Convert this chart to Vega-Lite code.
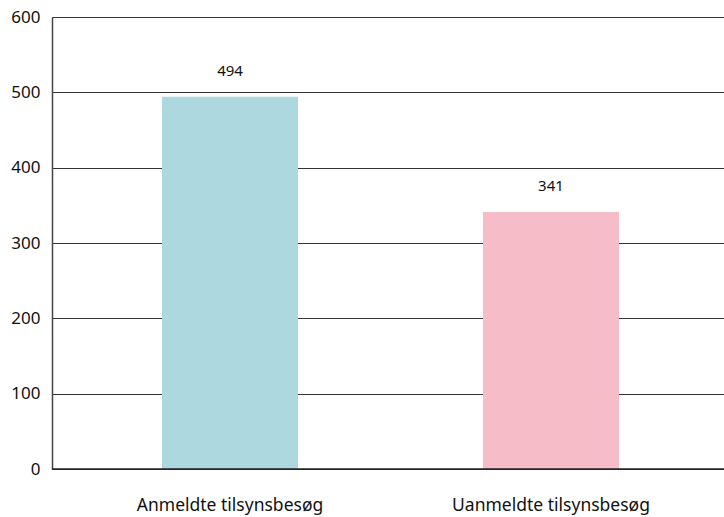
{
  "$schema": "https://vega.github.io/schema/vega-lite/v6.json",
  "width": 677,
  "height": 452,
  "autosize": {"type": "none"},
  "padding": {"left": 52, "top": 17, "right": 0, "bottom": 48},
  "config": {"view": {"stroke": null}, "font": "Noto Sans"},
  "data": {"values": [
    {"kategori": "Anmeldte tilsynsbesøg", "antal": 494},
    {"kategori": "Uanmeldte tilsynsbesøg", "antal": 341}
  ]},
  "encoding": {
    "x": {"field": "kategori", "type": "nominal", "sort": null,
      "scale": {"paddingInner": 0.5763, "paddingOuter": 0.3427},
      "axis": {"title": null, "labelAngle": 0, "labelFontSize": 17.5, "labelColor": "#111", "labelPadding": 27, "labelLimit": 0, "ticks": false, "domain": false}},
    "y": {"field": "antal", "type": "quantitative",
      "scale": {"domain": [0, 600], "nice": false},
      "axis": {"title": null, "values": [0, 100, 200, 300, 400, 500, 600], "labelFontSize": 17, "labelColor": "#111", "labelPadding": 12, "ticks": false, "domain": true, "domainColor": "#444", "domainWidth": 1.5, "gridColor": "#333", "gridWidth": 1, "gridOpacity": 1}}
  },
  "layer": [
    {"mark": {"type": "bar"},
     "encoding": {"color": {"field": "kategori", "type": "nominal", "legend": null,
       "scale": {"domain": ["Anmeldte tilsynsbesøg", "Uanmeldte tilsynsbesøg"], "range": ["#add8e0", "#f6bdc9"]}}}},
    {"mark": {"type": "text", "dy": -18, "fontSize": 15, "color": "#111", "baseline": "bottom"},
     "encoding": {"text": {"field": "antal", "type": "quantitative"}}},
    {"mark": {"type": "rule", "color": "#222", "strokeWidth": 1.5},
     "data": {"values": [{"v": 0}]},
     "encoding": {"y": {"field": "v", "type": "quantitative"}, "x": {"value": 0}, "x2": {"value": 677}}}
  ]
}
